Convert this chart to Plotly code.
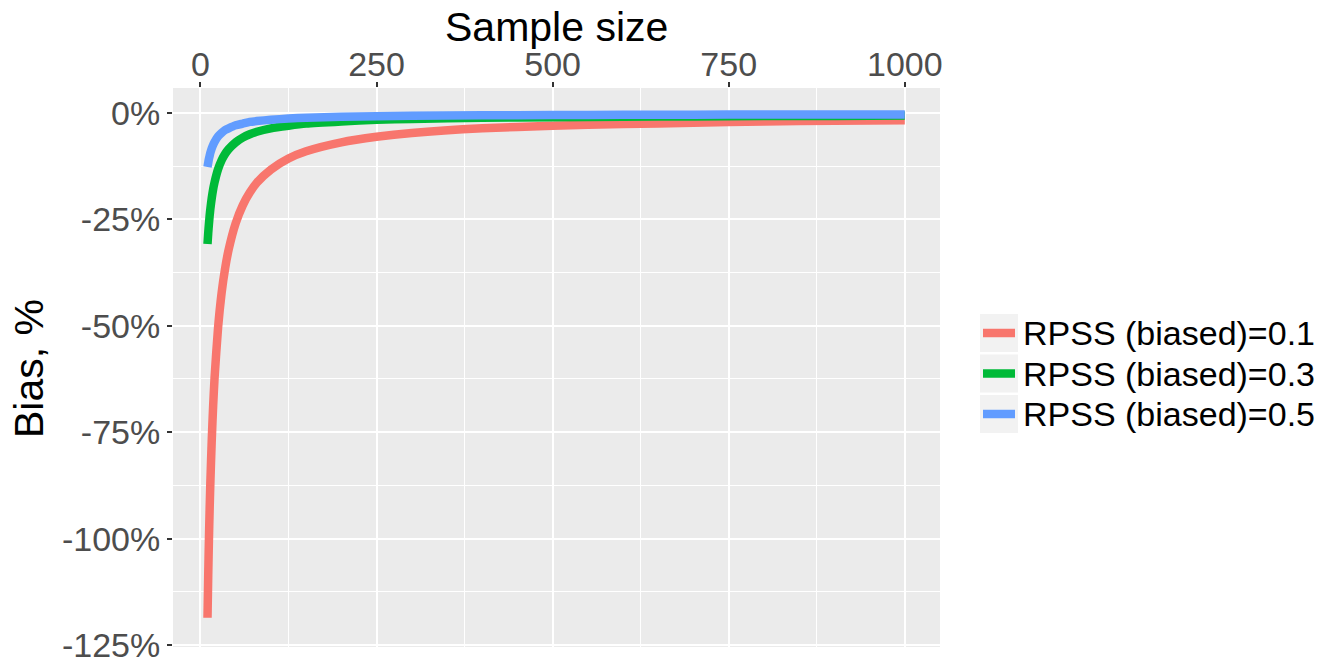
import plotly.graph_objects as go

# ---- data ----
sample_size = [10, 11, 12, 13, 14, 16, 18, 20, 25, 30, 35, 40, 50, 60, 70, 80,
               100, 125, 150, 200, 250, 300, 400, 500, 600, 700, 800, 900, 1000]

bias_01 = [-1.186, -1.087, -1.004, -0.933, -0.871, -0.769, -0.688, -0.623, -0.504,
           -0.423, -0.365, -0.321, -0.259, -0.217, -0.187, -0.164, -0.133, -0.107,
           -0.090, -0.069, -0.056, -0.047, -0.036, -0.030, -0.026, -0.023, -0.020,
           -0.018, -0.017]
bias_03 = [-0.308, -0.282, -0.261, -0.242, -0.226, -0.200, -0.179, -0.163, -0.132,
           -0.111, -0.096, -0.085, -0.069, -0.058, -0.050, -0.044, -0.036, -0.030,
           -0.025, -0.020, -0.016, -0.014, -0.011, -0.010, -0.009, -0.008, -0.007,
           -0.007, -0.006]
bias_05 = [-0.127, -0.117, -0.108, -0.101, -0.094, -0.083, -0.075, -0.068, -0.055,
           -0.047, -0.040, -0.036, -0.029, -0.025, -0.021, -0.019, -0.016, -0.013,
           -0.011, -0.009, -0.0075, -0.0066, -0.0054, -0.0048, -0.0043, -0.004,
           -0.0037, -0.0035, -0.0034]

series_names = ["RPSS (biased)=0.1", "RPSS (biased)=0.3", "RPSS (biased)=0.5"]
series_values = [bias_01, bias_03, bias_05]
series_colors = ["#F8766D", "#00BA38", "#619CFF"]

x_tickvals = [0, 250, 500, 750, 1000]
x_ticktext = ["0", "250", "500", "750", "1000"]
y_tickvals = [0, -0.25, -0.5, -0.75, -1.0, -1.25]
y_ticktext = ["0%", "-25%", "-50%", "-75%", "-100%", "-125%"]
x_title = "Sample size"
y_title = "Bias, %"

FONT = "Liberation Sans, Arial, sans-serif"

# panel geometry in pixels
L, R, T, B = 173, 940, 88, 647
W, H = R - L, B - T


def px_x(p):
    return (p - L) / W


def px_y(p):
    return (B - p) / H


fig = go.Figure()
for name, vals, col in zip(series_names, series_values, series_colors):
    fig.add_trace(go.Scatter(x=sample_size, y=vals, mode="lines", name=name,
                             line=dict(color=col, width=8.5, shape="spline", smoothing=0.6),
                             showlegend=False))

# ggplot-style legend drawn as key boxes, key lines and labels
shapes, annotations = [], []
for i, (name, col) in enumerate(zip(series_names, series_colors)):
    top = 314 + i * 40.5
    mid = top + 19
    shapes.append(dict(type="rect", xref="paper", yref="paper",
                       x0=px_x(980), x1=px_x(1018), y0=px_y(top + 38), y1=px_y(top),
                       fillcolor="#F2F2F2", line=dict(width=0), layer="below"))
    shapes.append(dict(type="line", xref="paper", yref="paper",
                       x0=px_x(983), x1=px_x(1015), y0=px_y(mid), y1=px_y(mid),
                       line=dict(color=col, width=8.5)))
    annotations.append(dict(text=name, xref="paper", yref="paper", x=px_x(1021), y=px_y(mid),
                            xanchor="left", yanchor="middle", showarrow=False,
                            font=dict(family=FONT, size=34, color="black")))

# axis titles
annotations.append(dict(text=x_title, xref="paper", yref="paper", x=0.5, y=px_y(27),
                        xanchor="center", yanchor="middle", showarrow=False,
                        font=dict(family=FONT, size=41, color="black")))
annotations.append(dict(text=y_title, xref="paper", yref="paper", x=px_x(29), y=px_y(369),
                        xanchor="center", yanchor="middle", showarrow=False, textangle=-90,
                        font=dict(family=FONT, size=41, color="black")))

fig.update_layout(
    width=1328, height=665,
    margin=dict(l=L, r=1328 - R, t=T, b=665 - B),
    paper_bgcolor="white", plot_bgcolor="#EBEBEB",
    font=dict(family=FONT, size=34, color="#4D4D4D"),
    showlegend=False,
    shapes=shapes, annotations=annotations,
    xaxis=dict(side="top", range=[-39, 1050], tickvals=x_tickvals, ticktext=x_ticktext,
               automargin=False, ticklabelstandoff=-8,
               showgrid=True, gridcolor="white", gridwidth=2,
               minor=dict(dtick=125, tick0=125, showgrid=True, gridcolor="white", gridwidth=1, ticks=""),
               ticks="outside", ticklen=5, tickwidth=1.5, tickcolor="#333333",
               tickfont=dict(size=34, color="#4D4D4D"),
               zeroline=False, showline=False),
    yaxis=dict(range=[-1.2547, 0.0587], tickvals=y_tickvals, ticktext=y_ticktext,
               automargin=False,
               showgrid=True, gridcolor="white", gridwidth=2,
               minor=dict(dtick=0.125, tick0=0.125, showgrid=True, gridcolor="white", gridwidth=1, ticks=""),
               ticks="outside", ticklen=5, tickwidth=1.5, tickcolor="#333333",
               tickfont=dict(size=34, color="#4D4D4D"),
               zeroline=False, showline=False),
)

fig.write_html("out.html", config={"displayModeBar": False},
               post_script="document.body.style.margin='0';")
